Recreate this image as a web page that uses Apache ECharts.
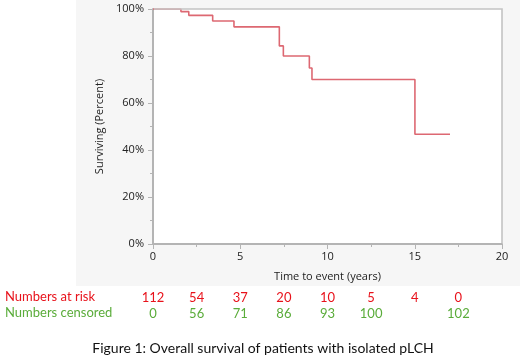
<!DOCTYPE html>
<html>
<head>
<meta charset="utf-8">
<script src="https://cdn.jsdelivr.net/npm/echarts@6/dist/echarts.min.js"></script>
<style>
html,body{margin:0;padding:0;background:#fff;}
#main{width:520px;height:357px;}
</style>
</head>
<body>
<div id="main"></div>
<script>
const timeYears = [0, 1.6, 2.05, 3.42, 4.64, 7.24, 7.47, 8.96, 9.11, 15.01, 17.02];
const survivalPct = [100, 98.9, 97.3, 94.9, 92.4, 84.3, 80.0, 74.9, 70.0, 46.7, 46.7];
const riskTimes = [0, 2.5, 5, 7.5, 10, 12.5, 15, 17.5];
const atRisk = ['112', '54', '37', '20', '10', '5', '4', '0'];
const censored = ['0', '56', '71', '86', '93', '100', '', '102'];
const yTicks = [0, 20, 40, 60, 80, 100];
const xTicks = [0, 5, 10, 15, 20];

const axisGray = '#b4b4b4';
const frameGray = '#c4c4c4';
const labelFont = '"Open Sans", "Noto Sans", sans-serif';
const textFont = 'Lato, "Open Sans", sans-serif';
const red = '#e8121b';
const green = '#5aac3a';

const chart = echarts.init(document.getElementById('main'));
chart.setOption({
  animation: false,
  grid: { left: 153, right: 18, top: 9, bottom: 113, show: true, backgroundColor: '#ffffff', borderWidth: 0 },
  xAxis: [{
    type: 'value', min: xTicks[0], max: xTicks[xTicks.length - 1], interval: 5,
    name: 'Time to event (years)', nameLocation: 'middle', nameGap: 27,
    nameTextStyle: { fontFamily: labelFont, fontSize: 11, color: '#222' },
    axisLine: { show: true, onZero: false, lineStyle: { color: axisGray, width: 2 } },
    axisTick: { show: true, length: 5, lineStyle: { color: axisGray } },
    minorTick: { show: true, splitNumber: 2, length: 3, lineStyle: { color: axisGray } },
    axisLabel: { fontFamily: labelFont, fontSize: 11, color: '#222', margin: 7 },
    splitLine: { show: false }
  }],
  yAxis: [{
    type: 'value', min: yTicks[0], max: yTicks[yTicks.length - 1], interval: 20,
    name: 'Surviving (Percent)', nameLocation: 'middle', nameGap: 46,
    nameTextStyle: { fontFamily: labelFont, fontSize: 11, color: '#222' },
    axisLine: { show: true, onZero: false, lineStyle: { color: axisGray, width: 2 } },
    axisTick: { show: true, length: 5, lineStyle: { color: axisGray } },
    minorTick: { show: true, splitNumber: 2, length: 3, lineStyle: { color: axisGray } },
    axisLabel: { formatter: '{value}%', fontFamily: labelFont, fontSize: 11, color: '#222', margin: 9 },
    splitLine: { show: false }
  }],
  series: [{
    type: 'line', step: 'end', symbol: 'none',
    data: timeYears.map((t, i) => [t, survivalPct[i]]),
    lineStyle: { color: '#dd6872', width: 1.6 }
  }]
});

const tl = chart.convertToPixel({ gridIndex: 0 }, [xTicks[0], yTicks[yTicks.length - 1]]);
const br = chart.convertToPixel({ gridIndex: 0 }, [xTicks[xTicks.length - 1], yTicks[0]]);

const rowRiskY = 298;
const rowCensY = 314;
const graphics = [{
  type: 'rect', z: -100, silent: true,
  shape: { x: 76, y: 0, width: 444, height: 286 },
  style: { fill: '#f6f6f6' }
}, {
  type: 'polyline', z: 100, silent: true,
  shape: { points: [[tl[0] + 1, tl[1]], [br[0], tl[1]], [br[0], br[1] - 1]] },
  style: { stroke: frameGray, lineWidth: 1.6, fill: null }
}, {
  type: 'text', left: 5, top: rowRiskY - 8,
  style: { text: 'Numbers at risk', fill: red, font: '13px ' + textFont }
}, {
  type: 'text', left: 5, top: rowCensY - 8,
  style: { text: 'Numbers censored', fill: green, font: '13px ' + textFont }
}];
riskTimes.forEach((t, i) => {
  const px = chart.convertToPixel({ xAxisIndex: 0 }, t);
  graphics.push({ type: 'text', x: px, y: rowRiskY,
    style: { text: atRisk[i], fill: red, font: '13px ' + textFont, textAlign: 'center', textVerticalAlign: 'middle' } });
  if (censored[i] !== '') {
    graphics.push({ type: 'text', x: px, y: rowCensY,
      style: { text: censored[i], fill: green, font: '13px ' + textFont, textAlign: 'center', textVerticalAlign: 'middle' } });
  }
});
graphics.push({ type: 'text', x: 263, y: 348,
  style: { text: 'Figure 1: Overall survival of patients with isolated pLCH', fill: '#111', font: '14px ' + textFont, textAlign: 'center', textVerticalAlign: 'middle' } });
chart.setOption({ graphic: graphics });
</script>
</body>
</html>
